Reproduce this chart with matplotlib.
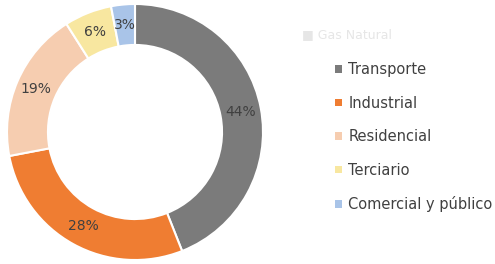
import matplotlib.pyplot as plt
from matplotlib.patches import Patch

categorias = ["Transporte", "Industrial", "Residencial", "Terciario", "Comercial y público"]
valores = [44, 28, 19, 6, 3]
colores = ["#7b7b7b", "#ef7d32", "#f6cdb0", "#f8e7a0", "#a9c4e8"]

fig = plt.figure(figsize=(4.95, 2.64), dpi=100)

# donut
ax = fig.add_axes([7 / 495, 4 / 264, 256 / 495, 256 / 264])
ax.pie(valores, colors=colores, startangle=90, counterclock=False,
       radius=1.0, autopct="%1.0f%%", pctdistance=0.84,
       wedgeprops=dict(width=0.32, edgecolor="white", linewidth=1.5),
       textprops=dict(fontsize=10, color="#404040"))
ax.set_xlim(-1, 1)
ax.set_ylim(-1, 1)
ax.set_aspect("equal")
ax.axis("off")

# leyenda fantasma del fondo
fig.text(302 / 495, 1 - 35 / 264, "■ Gas Natural", fontsize=9, color="#e6e6e6", va="center")

handles = [Patch(facecolor=c, edgecolor="none") for c in colores]
fig.legend(handles, categorias, loc="upper left", bbox_to_anchor=(322 / 495, 1 - 49 / 264),
           frameon=False, fontsize=10.5, handlelength=0.45, handleheight=0.45,
           handletextpad=0.45, labelspacing=1.27, labelcolor="#404040")

fig.savefig("out.png", dpi=100)
